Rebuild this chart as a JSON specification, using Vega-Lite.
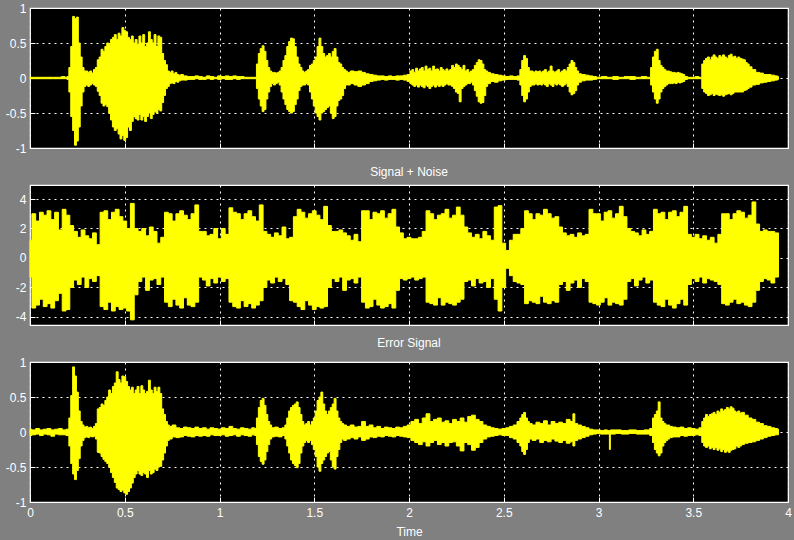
{
"$schema": "https://vega.github.io/schema/vega-lite/v6.json",
"background": "#808080",
"padding": {"left": 4, "top": 1, "right": 3, "bottom": 2},
"bounds": "flush",
"spacing": 37,
"config": {
  "view": {"fill": "black", "stroke": "white", "strokeWidth": 1.2},
  "axis": {"domain": false, "grid": true, "gridColor": "white", "gridDash": [2, 4], "gridOpacity": 1, "gridWidth": 1,
    "labelColor": "white", "labelFont": "Liberation Sans", "labelFontSize": 12, "titleColor": "white", "titleFont": "Liberation Sans",
    "titleFontSize": 12, "titleFontWeight": "normal", "tickColor": "white", "tickSize": -5, "tickWidth": 1},
  "title": {"color": "white", "font": "Liberation Sans", "fontSize": 12, "fontWeight": "normal", "offset": 6}
},
"datasets": {
"s": [
{"t":0,"h":0.01,"l":-0.01},{"t":0.05,"h":0.01,"l":-0.01},{"t":0.1,"h":0.01,"l":-0.01},{"t":0.15,"h":0.01,"l":-0.01},{"t":0.18,"h":0.02,"l":-0.01},{"t":0.19,"h":0.01,"l":-0.01},{"t":0.2,"h":0.02,"l":-0.02},{"t":0.21,"h":0.15,"l":-0.2},{"t":0.22,"h":0.45,"l":-0.55},{"t":0.23,"h":0.88,"l":-0.75},{"t":0.24,"h":0.85,"l":-0.96},{"t":0.25,"h":0.87,"l":-0.9},{"t":0.26,"h":0.5,"l":-0.7},{"t":0.27,"h":0.3,"l":-0.4},{"t":0.28,"h":0.15,"l":-0.2},{"t":0.29,"h":0.1,"l":-0.12},{"t":0.3,"h":0.1,"l":-0.1},{"t":0.31,"h":0.08,"l":-0.12},{"t":0.32,"h":0.1,"l":-0.1},{"t":0.33,"h":0.07,"l":-0.08},{"t":0.34,"h":0.12,"l":-0.1},{"t":0.35,"h":0.15,"l":-0.12},
{"t":0.36,"h":0.26,"l":-0.19},{"t":0.37,"h":0.3,"l":-0.25},{"t":0.38,"h":0.41,"l":-0.36},{"t":0.39,"h":0.38,"l":-0.4},{"t":0.4,"h":0.45,"l":-0.38},{"t":0.41,"h":0.5,"l":-0.41},{"t":0.42,"h":0.48,"l":-0.5},{"t":0.43,"h":0.55,"l":-0.6},{"t":0.44,"h":0.58,"l":-0.7},{"t":0.45,"h":0.62,"l":-0.75},{"t":0.46,"h":0.55,"l":-0.72},{"t":0.47,"h":0.64,"l":-0.8},{"t":0.48,"h":0.6,"l":-0.87},{"t":0.49,"h":0.72,"l":-0.82},{"t":0.5,"h":0.68,"l":-0.89},{"t":0.51,"h":0.66,"l":-0.85},{"t":0.52,"h":0.58,"l":-0.7},{"t":0.53,"h":0.55,"l":-0.75},{"t":0.54,"h":0.6,"l":-0.62},{"t":0.55,"h":0.5,"l":-0.55},{"t":0.56,"h":0.55,"l":-0.58},{"t":0.57,"h":0.48,"l":-0.6},{"t":0.58,"h":0.6,"l":-0.52},{"t":0.59,"h":0.5,"l":-0.6},{"t":0.6,"h":0.62,"l":-0.55},{"t":0.61,"h":0.45,"l":-0.62},{"t":0.62,"h":0.5,"l":-0.55},{"t":0.63,"h":0.66,"l":-0.5},{"t":0.64,"h":0.55,"l":-0.58},{"t":0.65,"h":0.5,"l":-0.52},{"t":0.66,"h":0.62,"l":-0.48},{"t":0.67,"h":0.45,"l":-0.5},{"t":0.68,"h":0.6,"l":-0.45},{"t":0.69,"h":0.58,"l":-0.47},{"t":0.7,"h":0.35,"l":-0.35},{"t":0.71,"h":0.25,"l":-0.25},{"t":0.72,"h":0.19,"l":-0.15},{"t":0.73,"h":0.1,"l":-0.12},
{"t":0.74,"h":0.08,"l":-0.08},{"t":0.75,"h":0.1,"l":-0.07},{"t":0.76,"h":0.06,"l":-0.08},{"t":0.77,"h":0.08,"l":-0.05},{"t":0.78,"h":0.05,"l":-0.06},{"t":0.79,"h":0.04,"l":-0.04},{"t":0.8,"h":0.05,"l":-0.03},{"t":0.82,"h":0.03,"l":-0.03},{"t":0.84,"h":0.02,"l":-0.02},{"t":0.86,"h":0.02,"l":-0.02},{"t":0.88,"h":0.03,"l":-0.01},{"t":0.9,"h":0.02,"l":-0.02},{"t":0.92,"h":0.01,"l":-0.02},{"t":0.94,"h":0.03,"l":-0.01},{"t":0.96,"h":0.02,"l":-0.02},{"t":0.98,"h":0.01,"l":-0.01},{"t":1,"h":0.03,"l":-0.02},{"t":1.02,"h":0.02,"l":-0.01},{"t":1.04,"h":0.03,"l":-0.02},{"t":1.06,"h":0.02,"l":-0.02},{"t":1.08,"h":0.03,"l":-0.01},{"t":1.1,"h":0.02,"l":-0.02},{"t":1.12,"h":0.02,"l":-0.01},{"t":1.14,"h":0.01,"l":-0.01},{"t":1.17,"h":0.01,"l":-0.01},{"t":1.19,"h":0.01,"l":-0.01},
{"t":1.2,"h":0.2,"l":-0.15},{"t":1.21,"h":0.35,"l":-0.3},{"t":1.22,"h":0.42,"l":-0.4},{"t":1.23,"h":0.46,"l":-0.48},{"t":1.24,"h":0.38,"l":-0.45},{"t":1.25,"h":0.25,"l":-0.3},{"t":1.26,"h":0.15,"l":-0.2},{"t":1.27,"h":0.1,"l":-0.12},{"t":1.28,"h":0.08,"l":-0.08},{"t":1.29,"h":0.08,"l":-0.1},{"t":1.3,"h":0.07,"l":-0.08},{"t":1.31,"h":0.08,"l":-0.06},{"t":1.32,"h":0.1,"l":-0.1},{"t":1.33,"h":0.15,"l":-0.2},{"t":1.34,"h":0.25,"l":-0.3},{"t":1.35,"h":0.32,"l":-0.38},{"t":1.36,"h":0.45,"l":-0.45},{"t":1.37,"h":0.52,"l":-0.48},{"t":1.38,"h":0.57,"l":-0.5},{"t":1.39,"h":0.56,"l":-0.48},{"t":1.4,"h":0.45,"l":-0.38},{"t":1.41,"h":0.3,"l":-0.3},{"t":1.42,"h":0.2,"l":-0.18},{"t":1.43,"h":0.15,"l":-0.12},{"t":1.44,"h":0.1,"l":-0.1},{"t":1.45,"h":0.08,"l":-0.1},{"t":1.46,"h":0.1,"l":-0.08},{"t":1.47,"h":0.12,"l":-0.1},
{"t":1.48,"h":0.18,"l":-0.2},{"t":1.49,"h":0.2,"l":-0.3},{"t":1.5,"h":0.25,"l":-0.4},{"t":1.51,"h":0.3,"l":-0.5},{"t":1.52,"h":0.45,"l":-0.55},{"t":1.53,"h":0.57,"l":-0.6},{"t":1.54,"h":0.45,"l":-0.5},{"t":1.55,"h":0.35,"l":-0.48},{"t":1.56,"h":0.3,"l":-0.45},{"t":1.57,"h":0.32,"l":-0.42},{"t":1.58,"h":0.35,"l":-0.4},{"t":1.59,"h":0.3,"l":-0.5},{"t":1.6,"h":0.38,"l":-0.58},{"t":1.61,"h":0.42,"l":-0.55},{"t":1.62,"h":0.3,"l":-0.4},{"t":1.63,"h":0.22,"l":-0.32},{"t":1.64,"h":0.2,"l":-0.3},{"t":1.65,"h":0.15,"l":-0.25},{"t":1.66,"h":0.12,"l":-0.15},{"t":1.67,"h":0.1,"l":-0.1},
{"t":1.68,"h":0.08,"l":-0.1},{"t":1.7,"h":0.1,"l":-0.08},{"t":1.72,"h":0.09,"l":-0.1},{"t":1.74,"h":0.1,"l":-0.12},{"t":1.76,"h":0.08,"l":-0.1},{"t":1.78,"h":0.06,"l":-0.08},{"t":1.8,"h":0.05,"l":-0.05},{"t":1.82,"h":0.04,"l":-0.04},{"t":1.84,"h":0.03,"l":-0.03},{"t":1.86,"h":0.03,"l":-0.02},{"t":1.88,"h":0.02,"l":-0.03},{"t":1.9,"h":0.03,"l":-0.02},{"t":1.92,"h":0.02,"l":-0.02},{"t":1.94,"h":0.03,"l":-0.03},{"t":1.96,"h":0.03,"l":-0.02},{"t":1.98,"h":0.04,"l":-0.03},{"t":2,"h":0.05,"l":-0.05},
{"t":2.01,"h":0.1,"l":-0.08},{"t":2.02,"h":0.12,"l":-0.1},{"t":2.03,"h":0.08,"l":-0.12},{"t":2.04,"h":0.14,"l":-0.1},{"t":2.05,"h":0.1,"l":-0.13},{"t":2.06,"h":0.13,"l":-0.1},{"t":2.07,"h":0.15,"l":-0.12},{"t":2.08,"h":0.1,"l":-0.14},{"t":2.09,"h":0.17,"l":-0.1},{"t":2.1,"h":0.12,"l":-0.12},{"t":2.11,"h":0.14,"l":-0.15},{"t":2.12,"h":0.1,"l":-0.12},{"t":2.13,"h":0.17,"l":-0.1},{"t":2.14,"h":0.12,"l":-0.13},{"t":2.15,"h":0.13,"l":-0.1},{"t":2.16,"h":0.1,"l":-0.12},{"t":2.17,"h":0.15,"l":-0.1},{"t":2.18,"h":0.12,"l":-0.12},{"t":2.19,"h":0.1,"l":-0.1},{"t":2.2,"h":0.13,"l":-0.08},{"t":2.21,"h":0.1,"l":-0.1},{"t":2.22,"h":0.12,"l":-0.1},{"t":2.23,"h":0.18,"l":-0.12},{"t":2.24,"h":0.15,"l":-0.15},{"t":2.25,"h":0.2,"l":-0.2},{"t":2.26,"h":0.18,"l":-0.22},{"t":2.27,"h":0.15,"l":-0.34},{"t":2.28,"h":0.12,"l":-0.15},{"t":2.29,"h":0.18,"l":-0.12},{"t":2.3,"h":0.1,"l":-0.1},{"t":2.31,"h":0.12,"l":-0.08},{"t":2.32,"h":0.08,"l":-0.08},{"t":2.33,"h":0.1,"l":-0.06},
{"t":2.34,"h":0.12,"l":-0.1},{"t":2.35,"h":0.18,"l":-0.18},{"t":2.36,"h":0.22,"l":-0.26},{"t":2.37,"h":0.26,"l":-0.34},{"t":2.38,"h":0.25,"l":-0.36},{"t":2.39,"h":0.2,"l":-0.35},{"t":2.4,"h":0.12,"l":-0.25},{"t":2.41,"h":0.1,"l":-0.12},{"t":2.42,"h":0.08,"l":-0.08},{"t":2.44,"h":0.06,"l":-0.05},{"t":2.46,"h":0.05,"l":-0.06},{"t":2.48,"h":0.04,"l":-0.04},{"t":2.5,"h":0.03,"l":-0.03},{"t":2.52,"h":0.02,"l":-0.02},{"t":2.54,"h":0.03,"l":-0.02},{"t":2.56,"h":0.02,"l":-0.02},{"t":2.58,"h":0.03,"l":-0.03},
{"t":2.59,"h":0.12,"l":-0.1},{"t":2.6,"h":0.25,"l":-0.25},{"t":2.61,"h":0.32,"l":-0.34},{"t":2.62,"h":0.28,"l":-0.3},{"t":2.63,"h":0.15,"l":-0.2},{"t":2.64,"h":0.1,"l":-0.12},{"t":2.65,"h":0.1,"l":-0.1},{"t":2.66,"h":0.08,"l":-0.1},{"t":2.67,"h":0.1,"l":-0.08},{"t":2.68,"h":0.09,"l":-0.1},{"t":2.69,"h":0.1,"l":-0.09},{"t":2.7,"h":0.08,"l":-0.1},{"t":2.71,"h":0.1,"l":-0.08},{"t":2.72,"h":0.12,"l":-0.1},{"t":2.73,"h":0.08,"l":-0.12},{"t":2.74,"h":0.1,"l":-0.08},{"t":2.75,"h":0.17,"l":-0.1},{"t":2.76,"h":0.1,"l":-0.12},{"t":2.77,"h":0.08,"l":-0.08},{"t":2.78,"h":0.1,"l":-0.1},{"t":2.79,"h":0.12,"l":-0.08},{"t":2.8,"h":0.08,"l":-0.1},{"t":2.81,"h":0.1,"l":-0.12},{"t":2.82,"h":0.12,"l":-0.1},{"t":2.83,"h":0.1,"l":-0.08},{"t":2.84,"h":0.15,"l":-0.12},{"t":2.85,"h":0.2,"l":-0.2},{"t":2.86,"h":0.25,"l":-0.24},{"t":2.87,"h":0.22,"l":-0.22},{"t":2.88,"h":0.15,"l":-0.18},{"t":2.89,"h":0.1,"l":-0.1},{"t":2.9,"h":0.06,"l":-0.06},{"t":2.92,"h":0.05,"l":-0.04},{"t":2.94,"h":0.04,"l":-0.03},{"t":2.96,"h":0.03,"l":-0.03},{"t":2.98,"h":0.02,"l":-0.02},
{"t":3,"h":0.01,"l":-0.01},{"t":3.03,"h":0.02,"l":-0.01},{"t":3.06,"h":0.01,"l":-0.01},{"t":3.09,"h":0.02,"l":-0.02},{"t":3.12,"h":0.01,"l":-0.01},{"t":3.15,"h":0.02,"l":-0.01},{"t":3.18,"h":0.02,"l":-0.02},{"t":3.21,"h":0.01,"l":-0.01},{"t":3.24,"h":0.02,"l":-0.01},{"t":3.27,"h":0.01,"l":-0.01},
{"t":3.28,"h":0.15,"l":-0.1},{"t":3.29,"h":0.3,"l":-0.2},{"t":3.3,"h":0.38,"l":-0.3},{"t":3.31,"h":0.41,"l":-0.36},{"t":3.32,"h":0.25,"l":-0.3},{"t":3.33,"h":0.18,"l":-0.2},{"t":3.34,"h":0.15,"l":-0.15},{"t":3.35,"h":0.12,"l":-0.12},{"t":3.36,"h":0.1,"l":-0.1},{"t":3.37,"h":0.1,"l":-0.08},{"t":3.38,"h":0.09,"l":-0.08},{"t":3.39,"h":0.08,"l":-0.08},{"t":3.4,"h":0.08,"l":-0.07},{"t":3.41,"h":0.07,"l":-0.08},{"t":3.42,"h":0.08,"l":-0.06},{"t":3.43,"h":0.07,"l":-0.07},{"t":3.44,"h":0.06,"l":-0.06},{"t":3.45,"h":0.05,"l":-0.05},{"t":3.46,"h":0.02,"l":-0.02},{"t":3.48,"h":0.01,"l":-0.01},{"t":3.5,"h":0.01,"l":-0.01},{"t":3.52,"h":0.02,"l":-0.01},{"t":3.54,"h":0.01,"l":-0.01},
{"t":3.55,"h":0.2,"l":-0.15},{"t":3.56,"h":0.25,"l":-0.2},{"t":3.57,"h":0.28,"l":-0.22},{"t":3.58,"h":0.3,"l":-0.25},{"t":3.59,"h":0.26,"l":-0.24},{"t":3.6,"h":0.3,"l":-0.22},{"t":3.61,"h":0.33,"l":-0.25},{"t":3.62,"h":0.3,"l":-0.23},{"t":3.63,"h":0.28,"l":-0.24},{"t":3.64,"h":0.32,"l":-0.25},{"t":3.65,"h":0.3,"l":-0.24},{"t":3.66,"h":0.33,"l":-0.26},{"t":3.67,"h":0.3,"l":-0.24},{"t":3.68,"h":0.28,"l":-0.23},{"t":3.69,"h":0.32,"l":-0.22},{"t":3.7,"h":0.34,"l":-0.24},{"t":3.71,"h":0.3,"l":-0.22},{"t":3.72,"h":0.31,"l":-0.2},{"t":3.73,"h":0.28,"l":-0.2},{"t":3.74,"h":0.3,"l":-0.2},{"t":3.75,"h":0.28,"l":-0.2},{"t":3.76,"h":0.27,"l":-0.2},{"t":3.77,"h":0.26,"l":-0.18},{"t":3.78,"h":0.22,"l":-0.17},{"t":3.79,"h":0.2,"l":-0.15},{"t":3.8,"h":0.16,"l":-0.13},{"t":3.82,"h":0.12,"l":-0.1},{"t":3.84,"h":0.08,"l":-0.09},{"t":3.86,"h":0.07,"l":-0.07},{"t":3.88,"h":0.05,"l":-0.06},{"t":3.9,"h":0.05,"l":-0.05},{"t":3.92,"h":0.04,"l":-0.04},{"t":3.94,"h":0.03,"l":-0.03},{"t":3.95,"h":0.02,"l":-0.02}
],
"n": [
{"t":0,"h":1.2,"l":-1.3},{"t":0.02,"h":3.0,"l":-3.4},{"t":0.04,"h":2.5,"l":-3.2},{"t":0.06,"h":3.1,"l":-2.8},{"t":0.08,"h":2.9,"l":-3.3},{"t":0.1,"h":3.2,"l":-3.1},{"t":0.12,"h":2.6,"l":-3.4},{"t":0.14,"h":3.1,"l":-2.9},{"t":0.16,"h":1.9,"l":-2.4},{"t":0.18,"h":3.3,"l":-3.6},{"t":0.2,"h":2.9,"l":-3.5},{"t":0.22,"h":2.2,"l":-2.0},{"t":0.24,"h":1.8,"l":-1.5},{"t":0.26,"h":1.4,"l":-1.8},{"t":0.28,"h":1.9,"l":-1.3},{"t":0.3,"h":1.5,"l":-2.0},{"t":0.32,"h":1.3,"l":-1.4},{"t":0.34,"h":1.7,"l":-1.6},{"t":0.36,"h":0.9,"l":-1.2},
{"t":0.38,"h":3.1,"l":-3.3},{"t":0.4,"h":3.2,"l":-3.5},{"t":0.42,"h":2.6,"l":-3.0},{"t":0.44,"h":3.1,"l":-3.6},{"t":0.46,"h":3.3,"l":-3.3},{"t":0.48,"h":2.8,"l":-3.5},{"t":0.5,"h":2.5,"l":-3.4},{"t":0.52,"h":2.0,"l":-3.6},{"t":0.54,"h":3.7,"l":-4.2},{"t":0.56,"h":2.0,"l":-2.5},{"t":0.58,"h":1.8,"l":-1.6},{"t":0.6,"h":2.0,"l":-1.3},{"t":0.62,"h":1.5,"l":-2.2},{"t":0.64,"h":2.1,"l":-1.5},{"t":0.66,"h":1.8,"l":-1.4},{"t":0.68,"h":1.0,"l":-1.8},{"t":0.7,"h":1.4,"l":-1.3},
{"t":0.72,"h":3.1,"l":-3.0},{"t":0.74,"h":3.0,"l":-3.3},{"t":0.76,"h":2.5,"l":-2.8},{"t":0.78,"h":3.0,"l":-3.2},{"t":0.8,"h":3.2,"l":-3.4},{"t":0.82,"h":2.9,"l":-2.7},{"t":0.84,"h":2.6,"l":-3.2},{"t":0.86,"h":3.0,"l":-3.3},{"t":0.88,"h":3.6,"l":-3.0},{"t":0.9,"h":1.8,"l":-1.3},{"t":0.92,"h":1.8,"l":-1.5},{"t":0.94,"h":1.5,"l":-1.9},{"t":0.96,"h":1.6,"l":-1.4},{"t":0.98,"h":2.0,"l":-1.7},{"t":1,"h":1.3,"l":-1.3},{"t":1.02,"h":2.0,"l":-1.6},{"t":1.04,"h":1.6,"l":-1.4},
{"t":1.06,"h":3.4,"l":-3.0},{"t":1.08,"h":3.1,"l":-3.3},{"t":1.1,"h":3.0,"l":-3.4},{"t":1.12,"h":2.6,"l":-2.9},{"t":1.14,"h":3.0,"l":-3.3},{"t":1.16,"h":3.2,"l":-3.1},{"t":1.18,"h":2.8,"l":-3.4},{"t":1.2,"h":2.5,"l":-3.2},{"t":1.22,"h":3.6,"l":-2.9},{"t":1.24,"h":1.8,"l":-2.0},{"t":1.26,"h":1.6,"l":-1.5},{"t":1.28,"h":1.4,"l":-1.7},{"t":1.3,"h":1.7,"l":-1.3},{"t":1.32,"h":1.5,"l":-1.6},{"t":1.34,"h":2.1,"l":-1.4},{"t":1.36,"h":1.3,"l":-1.8},{"t":1.38,"h":1.4,"l":-2.9},
{"t":1.4,"h":2.8,"l":-3.0},{"t":1.42,"h":3.3,"l":-3.3},{"t":1.44,"h":3.1,"l":-3.5},{"t":1.46,"h":2.7,"l":-2.9},{"t":1.48,"h":3.0,"l":-3.2},{"t":1.5,"h":3.2,"l":-3.5},{"t":1.52,"h":2.9,"l":-3.3},{"t":1.54,"h":2.6,"l":-3.4},{"t":1.56,"h":3.5,"l":-3.3},{"t":1.58,"h":2.2,"l":-2.0},{"t":1.6,"h":1.8,"l":-1.4},{"t":1.62,"h":1.8,"l":-1.6},{"t":1.64,"h":1.9,"l":-1.3},{"t":1.66,"h":1.7,"l":-2.2},{"t":1.68,"h":1.5,"l":-1.5},{"t":1.7,"h":1.2,"l":-1.4},{"t":1.72,"h":1.6,"l":-1.7},{"t":1.74,"h":1.1,"l":-1.3},
{"t":1.76,"h":3.2,"l":-3.0},{"t":1.78,"h":3.2,"l":-3.4},{"t":1.8,"h":2.6,"l":-3.3},{"t":1.82,"h":3.1,"l":-2.8},{"t":1.84,"h":3.0,"l":-3.2},{"t":1.86,"h":3.2,"l":-3.4},{"t":1.88,"h":2.7,"l":-3.3},{"t":1.9,"h":3.0,"l":-3.1},{"t":1.92,"h":3.3,"l":-3.4},{"t":1.94,"h":2.1,"l":-2.2},{"t":1.96,"h":1.7,"l":-1.4},{"t":1.98,"h":1.3,"l":-1.5},{"t":2,"h":1.4,"l":-1.4},{"t":2.02,"h":1.3,"l":-1.3},{"t":2.04,"h":1.3,"l":-1.5},{"t":2.06,"h":1.4,"l":-1.4},{"t":2.08,"h":1.8,"l":-1.3},
{"t":2.1,"h":3.2,"l":-3.0},{"t":2.12,"h":3.0,"l":-3.1},{"t":2.14,"h":2.6,"l":-3.2},{"t":2.16,"h":2.9,"l":-2.7},{"t":2.18,"h":3.0,"l":-3.2},{"t":2.2,"h":3.3,"l":-3.0},{"t":2.22,"h":2.7,"l":-3.1},{"t":2.24,"h":2.9,"l":-3.2},{"t":2.26,"h":3.45,"l":-3.0},{"t":2.28,"h":2.9,"l":-2.8},{"t":2.3,"h":2.1,"l":-1.6},{"t":2.32,"h":1.7,"l":-1.5},{"t":2.34,"h":1.4,"l":-1.9},{"t":2.36,"h":1.6,"l":-1.4},{"t":2.38,"h":1.3,"l":-1.7},{"t":2.4,"h":1.8,"l":-1.6},{"t":2.42,"h":1.5,"l":-2.0},{"t":2.44,"h":1.2,"l":-1.4},
{"t":2.46,"h":3.45,"l":-2.8},{"t":2.48,"h":3.55,"l":-3.6},{"t":2.5,"h":1.0,"l":-2.0},{"t":2.52,"h":0.5,"l":-0.7},{"t":2.54,"h":1.2,"l":-1.2},{"t":2.56,"h":1.6,"l":-1.6},{"t":2.58,"h":1.6,"l":-1.7},{"t":2.6,"h":2.0,"l":-1.8},
{"t":2.62,"h":3.2,"l":-3.1},{"t":2.64,"h":3.0,"l":-2.9},{"t":2.66,"h":2.6,"l":-3.0},{"t":2.68,"h":3.0,"l":-3.1},{"t":2.7,"h":2.9,"l":-2.6},{"t":2.72,"h":3.3,"l":-3.0},{"t":2.74,"h":3.0,"l":-3.1},{"t":2.76,"h":2.7,"l":-2.9},{"t":2.78,"h":2.8,"l":-3.0},{"t":2.8,"h":2.1,"l":-1.8},{"t":2.82,"h":1.7,"l":-1.6},{"t":2.84,"h":1.5,"l":-2.2},{"t":2.86,"h":1.6,"l":-1.7},{"t":2.88,"h":1.4,"l":-1.5},{"t":2.9,"h":1.7,"l":-2.0},{"t":2.92,"h":1.5,"l":-1.4},{"t":2.94,"h":1.6,"l":-1.6},
{"t":2.96,"h":3.3,"l":-3.0},{"t":2.98,"h":3.0,"l":-3.1},{"t":3,"h":3.0,"l":-3.2},{"t":3.02,"h":2.5,"l":-3.0},{"t":3.04,"h":3.1,"l":-2.7},{"t":3.06,"h":3.2,"l":-3.2},{"t":3.08,"h":2.7,"l":-3.0},{"t":3.1,"h":3.0,"l":-3.1},{"t":3.12,"h":3.5,"l":-3.2},{"t":3.14,"h":2.8,"l":-2.8},{"t":3.16,"h":2.0,"l":-1.6},{"t":3.18,"h":1.8,"l":-1.4},{"t":3.2,"h":1.7,"l":-1.9},{"t":3.22,"h":1.5,"l":-1.5},{"t":3.24,"h":1.9,"l":-1.3},{"t":3.26,"h":1.6,"l":-1.7},{"t":3.28,"h":1.8,"l":-1.5},
{"t":3.3,"h":3.3,"l":-3.0},{"t":3.32,"h":3.0,"l":-3.2},{"t":3.34,"h":3.1,"l":-3.3},{"t":3.36,"h":2.6,"l":-2.8},{"t":3.38,"h":3.1,"l":-3.2},{"t":3.4,"h":3.2,"l":-3.4},{"t":3.42,"h":2.8,"l":-3.1},{"t":3.44,"h":3.1,"l":-2.8},{"t":3.46,"h":3.5,"l":-3.2},{"t":3.48,"h":1.6,"l":-1.8},{"t":3.5,"h":1.4,"l":-1.4},{"t":3.52,"h":1.6,"l":-1.6},{"t":3.54,"h":1.3,"l":-1.3},{"t":3.56,"h":1.5,"l":-1.7},{"t":3.58,"h":1.2,"l":-1.4},{"t":3.6,"h":1.4,"l":-1.5},{"t":3.62,"h":1.0,"l":-1.6},{"t":3.64,"h":1.6,"l":-1.8},
{"t":3.66,"h":3.0,"l":-3.1},{"t":3.68,"h":3.0,"l":-3.2},{"t":3.7,"h":2.6,"l":-3.0},{"t":3.72,"h":3.0,"l":-2.8},{"t":3.74,"h":3.2,"l":-3.1},{"t":3.76,"h":3.1,"l":-3.0},{"t":3.78,"h":2.7,"l":-3.2},{"t":3.8,"h":2.9,"l":-3.3},{"t":3.82,"h":3.8,"l":-3.0},{"t":3.84,"h":2.3,"l":-2.2},{"t":3.86,"h":1.8,"l":-1.6},{"t":3.88,"h":1.9,"l":-1.4},{"t":3.9,"h":1.8,"l":-1.5},{"t":3.92,"h":1.8,"l":-1.7},{"t":3.94,"h":1.7,"l":-1.3},{"t":3.95,"h":1.7,"l":-1.3}
],
"e": [
{"t":0,"h":0.04,"l":-0.05},{"t":0.02,"h":0.03,"l":-0.04},{"t":0.04,"h":0.05,"l":-0.03},{"t":0.06,"h":0.03,"l":-0.05},{"t":0.08,"h":0.04,"l":-0.03},{"t":0.1,"h":0.05,"l":-0.04},{"t":0.12,"h":0.03,"l":-0.06},{"t":0.14,"h":0.04,"l":-0.03},{"t":0.16,"h":0.05,"l":-0.04},{"t":0.18,"h":0.03,"l":-0.04},{"t":0.2,"h":0.04,"l":-0.05},
{"t":0.21,"h":0.2,"l":-0.2},{"t":0.22,"h":0.52,"l":-0.45},{"t":0.23,"h":0.93,"l":-0.6},{"t":0.24,"h":0.8,"l":-0.68},{"t":0.25,"h":0.57,"l":-0.55},{"t":0.26,"h":0.3,"l":-0.38},{"t":0.27,"h":0.15,"l":-0.2},{"t":0.28,"h":0.1,"l":-0.12},{"t":0.29,"h":0.07,"l":-0.08},{"t":0.3,"h":0.08,"l":-0.07},{"t":0.31,"h":0.06,"l":-0.08},{"t":0.32,"h":0.07,"l":-0.06},{"t":0.33,"h":0.05,"l":-0.07},{"t":0.34,"h":0.08,"l":-0.06},{"t":0.35,"h":0.12,"l":-0.1},
{"t":0.36,"h":0.33,"l":-0.29},{"t":0.37,"h":0.35,"l":-0.3},{"t":0.38,"h":0.4,"l":-0.35},{"t":0.39,"h":0.38,"l":-0.39},{"t":0.4,"h":0.45,"l":-0.42},{"t":0.41,"h":0.5,"l":-0.45},{"t":0.42,"h":0.6,"l":-0.5},{"t":0.43,"h":0.55,"l":-0.58},{"t":0.44,"h":0.65,"l":-0.65},{"t":0.45,"h":0.7,"l":-0.72},{"t":0.46,"h":0.86,"l":-0.8},{"t":0.47,"h":0.75,"l":-0.82},{"t":0.48,"h":0.7,"l":-0.85},{"t":0.49,"h":0.8,"l":-0.83},{"t":0.5,"h":0.79,"l":-0.87},{"t":0.51,"h":0.72,"l":-0.89},{"t":0.52,"h":0.65,"l":-0.85},{"t":0.53,"h":0.6,"l":-0.8},{"t":0.54,"h":0.64,"l":-0.73},{"t":0.55,"h":0.55,"l":-0.65},{"t":0.56,"h":0.6,"l":-0.6},{"t":0.57,"h":0.65,"l":-0.55},{"t":0.58,"h":0.55,"l":-0.6},{"t":0.59,"h":0.66,"l":-0.62},{"t":0.6,"h":0.6,"l":-0.58},{"t":0.61,"h":0.55,"l":-0.6},{"t":0.62,"h":0.58,"l":-0.65},{"t":0.63,"h":0.74,"l":-0.55},{"t":0.64,"h":0.6,"l":-0.6},{"t":0.65,"h":0.55,"l":-0.58},{"t":0.66,"h":0.64,"l":-0.53},{"t":0.67,"h":0.58,"l":-0.55},{"t":0.68,"h":0.64,"l":-0.5},{"t":0.69,"h":0.55,"l":-0.49},{"t":0.7,"h":0.33,"l":-0.4},{"t":0.71,"h":0.25,"l":-0.3},{"t":0.72,"h":0.15,"l":-0.2},{"t":0.73,"h":0.1,"l":-0.12},
{"t":0.74,"h":0.08,"l":-0.1},{"t":0.76,"h":0.1,"l":-0.07},{"t":0.78,"h":0.06,"l":-0.08},{"t":0.8,"h":0.05,"l":-0.07},{"t":0.82,"h":0.07,"l":-0.05},{"t":0.84,"h":0.06,"l":-0.06},{"t":0.86,"h":0.05,"l":-0.07},{"t":0.88,"h":0.07,"l":-0.05},{"t":0.9,"h":0.05,"l":-0.06},{"t":0.92,"h":0.06,"l":-0.05},{"t":0.94,"h":0.04,"l":-0.06},{"t":0.96,"h":0.06,"l":-0.04},{"t":0.98,"h":0.05,"l":-0.05},{"t":1,"h":0.04,"l":-0.05},{"t":1.02,"h":0.06,"l":-0.04},{"t":1.04,"h":0.05,"l":-0.06},{"t":1.06,"h":0.08,"l":-0.05},{"t":1.08,"h":0.05,"l":-0.04},{"t":1.1,"h":0.04,"l":-0.06},{"t":1.12,"h":0.06,"l":-0.04},{"t":1.14,"h":0.05,"l":-0.05},{"t":1.16,"h":0.04,"l":-0.06},{"t":1.18,"h":0.06,"l":-0.04},{"t":1.19,"h":0.05,"l":-0.05},
{"t":1.2,"h":0.2,"l":-0.18},{"t":1.21,"h":0.35,"l":-0.35},{"t":1.22,"h":0.45,"l":-0.42},{"t":1.23,"h":0.48,"l":-0.46},{"t":1.24,"h":0.38,"l":-0.4},{"t":1.25,"h":0.25,"l":-0.28},{"t":1.26,"h":0.15,"l":-0.18},{"t":1.27,"h":0.1,"l":-0.1},{"t":1.28,"h":0.06,"l":-0.07},{"t":1.3,"h":0.07,"l":-0.06},{"t":1.32,"h":0.05,"l":-0.07},{"t":1.34,"h":0.06,"l":-0.05},{"t":1.35,"h":0.1,"l":-0.1},
{"t":1.36,"h":0.2,"l":-0.2},{"t":1.37,"h":0.3,"l":-0.3},{"t":1.38,"h":0.35,"l":-0.4},{"t":1.39,"h":0.38,"l":-0.45},{"t":1.4,"h":0.4,"l":-0.48},{"t":1.41,"h":0.43,"l":-0.51},{"t":1.42,"h":0.35,"l":-0.45},{"t":1.43,"h":0.25,"l":-0.3},{"t":1.44,"h":0.15,"l":-0.2},{"t":1.45,"h":0.1,"l":-0.15},{"t":1.46,"h":0.12,"l":-0.12},{"t":1.47,"h":0.15,"l":-0.15},{"t":1.48,"h":0.1,"l":-0.12},{"t":1.49,"h":0.15,"l":-0.18},
{"t":1.5,"h":0.2,"l":-0.25},{"t":1.51,"h":0.3,"l":-0.35},{"t":1.52,"h":0.45,"l":-0.5},{"t":1.53,"h":0.5,"l":-0.56},{"t":1.54,"h":0.57,"l":-0.45},{"t":1.55,"h":0.4,"l":-0.4},{"t":1.56,"h":0.3,"l":-0.35},{"t":1.57,"h":0.25,"l":-0.3},{"t":1.58,"h":0.3,"l":-0.28},{"t":1.59,"h":0.35,"l":-0.4},{"t":1.6,"h":0.4,"l":-0.5},{"t":1.61,"h":0.48,"l":-0.53},{"t":1.62,"h":0.3,"l":-0.35},{"t":1.63,"h":0.2,"l":-0.25},{"t":1.64,"h":0.15,"l":-0.15},
{"t":1.65,"h":0.12,"l":-0.1},{"t":1.66,"h":0.1,"l":-0.12},{"t":1.68,"h":0.08,"l":-0.1},{"t":1.7,"h":0.1,"l":-0.08},{"t":1.72,"h":0.07,"l":-0.1},{"t":1.74,"h":0.08,"l":-0.07},{"t":1.76,"h":0.15,"l":-0.12},{"t":1.78,"h":0.08,"l":-0.1},{"t":1.8,"h":0.1,"l":-0.07},{"t":1.82,"h":0.06,"l":-0.08},{"t":1.84,"h":0.08,"l":-0.06},{"t":1.86,"h":0.05,"l":-0.07},{"t":1.88,"h":0.07,"l":-0.05},{"t":1.9,"h":0.06,"l":-0.06},{"t":1.92,"h":0.05,"l":-0.07},{"t":1.94,"h":0.07,"l":-0.05},{"t":1.96,"h":0.06,"l":-0.06},{"t":1.98,"h":0.08,"l":-0.07},{"t":2,"h":0.1,"l":-0.08},
{"t":2.02,"h":0.15,"l":-0.12},{"t":2.04,"h":0.18,"l":-0.15},{"t":2.06,"h":0.12,"l":-0.18},{"t":2.08,"h":0.2,"l":-0.14},{"t":2.1,"h":0.26,"l":-0.2},{"t":2.12,"h":0.15,"l":-0.15},{"t":2.14,"h":0.18,"l":-0.12},{"t":2.16,"h":0.2,"l":-0.18},{"t":2.18,"h":0.14,"l":-0.15},{"t":2.2,"h":0.16,"l":-0.2},{"t":2.22,"h":0.12,"l":-0.15},{"t":2.24,"h":0.18,"l":-0.14},{"t":2.26,"h":0.15,"l":-0.2},{"t":2.28,"h":0.2,"l":-0.27},{"t":2.3,"h":0.14,"l":-0.15},{"t":2.32,"h":0.22,"l":-0.18},{"t":2.34,"h":0.24,"l":-0.26},{"t":2.36,"h":0.18,"l":-0.22},{"t":2.38,"h":0.15,"l":-0.15},{"t":2.4,"h":0.1,"l":-0.1},{"t":2.42,"h":0.08,"l":-0.07},{"t":2.44,"h":0.06,"l":-0.06},{"t":2.46,"h":0.05,"l":-0.05},{"t":2.48,"h":0.04,"l":-0.04},{"t":2.5,"h":0.05,"l":-0.05},{"t":2.52,"h":0.06,"l":-0.05},{"t":2.54,"h":0.08,"l":-0.08},
{"t":2.56,"h":0.1,"l":-0.1},{"t":2.58,"h":0.15,"l":-0.15},{"t":2.59,"h":0.2,"l":-0.2},{"t":2.6,"h":0.25,"l":-0.28},{"t":2.61,"h":0.28,"l":-0.32},{"t":2.62,"h":0.2,"l":-0.25},{"t":2.63,"h":0.15,"l":-0.15},{"t":2.64,"h":0.12,"l":-0.1},
{"t":2.66,"h":0.1,"l":-0.12},{"t":2.68,"h":0.14,"l":-0.1},{"t":2.7,"h":0.12,"l":-0.15},{"t":2.72,"h":0.16,"l":-0.12},{"t":2.74,"h":0.1,"l":-0.14},{"t":2.76,"h":0.15,"l":-0.1},{"t":2.78,"h":0.12,"l":-0.13},{"t":2.8,"h":0.14,"l":-0.15},{"t":2.82,"h":0.12,"l":-0.12},{"t":2.84,"h":0.18,"l":-0.16},{"t":2.86,"h":0.15,"l":-0.14},{"t":2.87,"h":0.26,"l":-0.2},{"t":2.88,"h":0.12,"l":-0.12},{"t":2.9,"h":0.1,"l":-0.1},{"t":2.92,"h":0.08,"l":-0.08},{"t":2.94,"h":0.06,"l":-0.06},{"t":2.96,"h":0.04,"l":-0.04},
{"t":2.98,"h":0.03,"l":-0.03},{"t":3,"h":0.03,"l":-0.02},{"t":3.02,"h":0.02,"l":-0.03},{"t":3.04,"h":0.03,"l":-0.03},{"t":3.055,"h":0.02,"l":-0.03},{"t":3.06,"h":0.02,"l":-0.25},{"t":3.065,"h":0.03,"l":-0.03},{"t":3.08,"h":0.03,"l":-0.03},{"t":3.1,"h":0.03,"l":-0.02},{"t":3.14,"h":0.02,"l":-0.03},{"t":3.18,"h":0.03,"l":-0.02},{"t":3.22,"h":0.02,"l":-0.03},{"t":3.26,"h":0.03,"l":-0.03},{"t":3.28,"h":0.05,"l":-0.05},
{"t":3.29,"h":0.2,"l":-0.15},{"t":3.3,"h":0.25,"l":-0.25},{"t":3.31,"h":0.3,"l":-0.3},{"t":3.32,"h":0.43,"l":-0.34},{"t":3.33,"h":0.2,"l":-0.3},{"t":3.34,"h":0.15,"l":-0.2},{"t":3.35,"h":0.12,"l":-0.15},{"t":3.36,"h":0.1,"l":-0.12},{"t":3.37,"h":0.1,"l":-0.1},{"t":3.38,"h":0.08,"l":-0.08},{"t":3.4,"h":0.07,"l":-0.07},{"t":3.42,"h":0.06,"l":-0.07},{"t":3.44,"h":0.07,"l":-0.05},{"t":3.46,"h":0.05,"l":-0.06},{"t":3.48,"h":0.06,"l":-0.05},{"t":3.5,"h":0.05,"l":-0.05},{"t":3.52,"h":0.04,"l":-0.04},{"t":3.54,"h":0.06,"l":-0.05},
{"t":3.55,"h":0.15,"l":-0.15},{"t":3.56,"h":0.2,"l":-0.2},{"t":3.57,"h":0.25,"l":-0.22},{"t":3.58,"h":0.22,"l":-0.2},{"t":3.59,"h":0.25,"l":-0.24},{"t":3.6,"h":0.26,"l":-0.22},{"t":3.61,"h":0.28,"l":-0.25},{"t":3.62,"h":0.25,"l":-0.22},{"t":3.63,"h":0.3,"l":-0.26},{"t":3.64,"h":0.28,"l":-0.24},{"t":3.65,"h":0.33,"l":-0.28},{"t":3.66,"h":0.3,"l":-0.25},{"t":3.67,"h":0.32,"l":-0.29},{"t":3.68,"h":0.35,"l":-0.27},{"t":3.69,"h":0.33,"l":-0.29},{"t":3.7,"h":0.36,"l":-0.26},{"t":3.71,"h":0.34,"l":-0.25},{"t":3.72,"h":0.3,"l":-0.24},{"t":3.73,"h":0.28,"l":-0.2},{"t":3.74,"h":0.3,"l":-0.22},{"t":3.75,"h":0.27,"l":-0.2},{"t":3.76,"h":0.28,"l":-0.18},{"t":3.78,"h":0.24,"l":-0.16},{"t":3.8,"h":0.2,"l":-0.15},{"t":3.82,"h":0.18,"l":-0.14},{"t":3.84,"h":0.14,"l":-0.12},{"t":3.86,"h":0.12,"l":-0.1},{"t":3.88,"h":0.09,"l":-0.08},{"t":3.9,"h":0.08,"l":-0.06},{"t":3.92,"h":0.06,"l":-0.05},{"t":3.94,"h":0.05,"l":-0.04},{"t":3.95,"h":0.04,"l":-0.04}
]
},
"vconcat": [
{
  "width": 758, "height": 140,
  "data": {"name": "s"},
  "mark": {"type": "area", "color": "#ffff00", "opacity": 1, "stroke": "#ffff00", "strokeWidth": 1, "interpolate": "step"},
  "encoding": {
    "x": {"field": "t", "type": "quantitative", "scale": {"domain": [0, 4], "nice": false},
      "axis": {"values": [0, 0.5, 1, 1.5, 2, 2.5, 3, 3.5, 4], "labels": false, "title": null}},
    "y": {"field": "h", "type": "quantitative", "scale": {"domain": [-1, 1], "nice": false},
      "axis": {"values": [-1, -0.5, 0, 0.5, 1], "title": null, "labelExpr": "datum.value + ''", "labelPadding": 9, "minExtent": 25, "maxExtent": 25}},
    "y2": {"field": "l"}
  }
},
{
  "width": 758, "height": 140,
  "title": "Signal + Noise",
  "data": {"name": "n"},
  "mark": {"type": "area", "color": "#ffff00", "opacity": 1, "stroke": "#ffff00", "strokeWidth": 1, "interpolate": "step"},
  "encoding": {
    "x": {"field": "t", "type": "quantitative", "scale": {"domain": [0, 4], "nice": false},
      "axis": {"values": [0, 0.5, 1, 1.5, 2, 2.5, 3, 3.5, 4], "labels": false, "title": null}},
    "y": {"field": "h", "type": "quantitative", "scale": {"domain": [-4.55, 4.95], "nice": false, "zero": false},
      "axis": {"values": [-4, -2, 0, 2, 4], "title": null, "labelExpr": "datum.value + ''", "labelPadding": 9, "minExtent": 25, "maxExtent": 25}},
    "y2": {"field": "l"}
  }
},
{
  "width": 758, "height": 140,
  "title": "Error Signal",
  "data": {"name": "e"},
  "mark": {"type": "area", "color": "#ffff00", "opacity": 1, "stroke": "#ffff00", "strokeWidth": 1, "interpolate": "step"},
  "encoding": {
    "x": {"field": "t", "type": "quantitative", "scale": {"domain": [0, 4], "nice": false},
      "axis": {"values": [0, 0.5, 1, 1.5, 2, 2.5, 3, 3.5, 4], "title": "Time", "labelFlush": false, "labelExpr": "datum.value + ''", "labelPadding": 10, "titlePadding": 8}},
    "y": {"field": "h", "type": "quantitative", "scale": {"domain": [-1, 1], "nice": false},
      "axis": {"values": [-1, -0.5, 0, 0.5, 1], "title": null, "labelExpr": "datum.value + ''", "labelPadding": 9, "minExtent": 25, "maxExtent": 25}},
    "y2": {"field": "l"}
  }
}
]
}
